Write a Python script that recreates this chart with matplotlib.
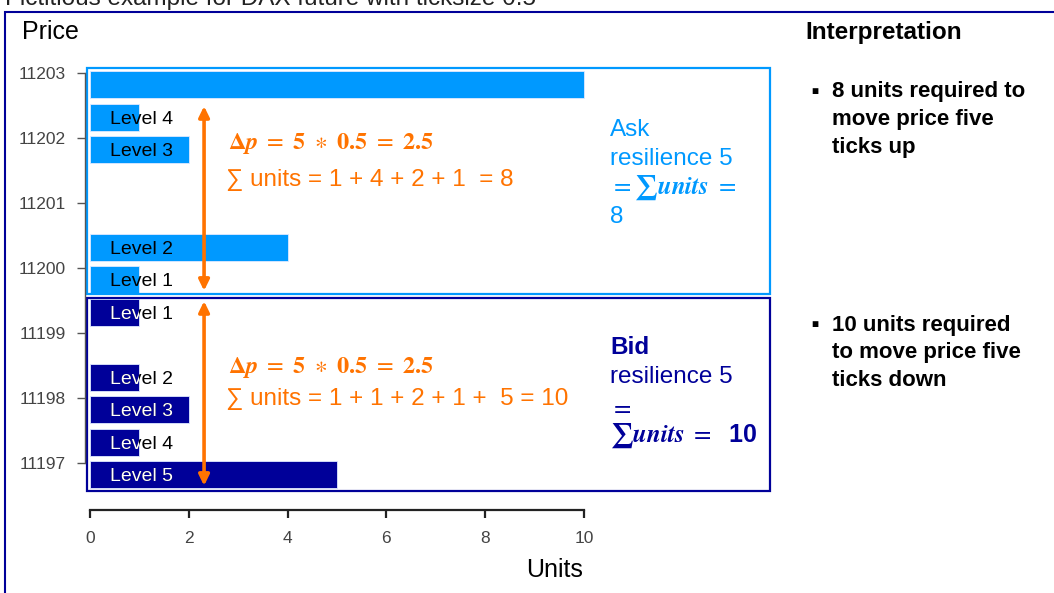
"""
Order book resilience illustration (ask / bid depth by level).
"""
import numpy as np
import matplotlib
matplotlib.use("Agg")
import matplotlib.pyplot as plt
from matplotlib.patches import Rectangle

plt.rcParams["font.family"] = ["Liberation Sans", "DejaVu Sans"]
plt.rcParams["mathtext.fontset"] = "stix"

TITLE = "Fictitious example for DAX future with ticksize 0.5"

ASK_PRICES = [11203.0, 11202.5, 11202.0, 11201.5, 11201.0, 11200.5, 11200.0]
ASK_UNITS = [10, 1, 2, 0, 0, 4, 1]
ASK_LABELS = ["", "Level 4", "Level 3", "", "", "Level 2", "Level 1"]

BID_PRICES = [11199.5, 11199.0, 11198.5, 11198.0, 11197.5, 11197.0]
BID_UNITS = [1, 0, 1, 2, 1, 5]
BID_LABELS = ["Level 1", "", "Level 2", "Level 3", "Level 4", "Level 5"]

PRICE_TICKS = [11197, 11198, 11199, 11200, 11201, 11202, 11203]
UNIT_TICKS = [0, 2, 4, 6, 8, 10]

ASK_NOTE = "\u2211 units = 1 + 4 + 2 + 1  = 8"
BID_NOTE = "\u2211 units = 1 + 1 + 2 + 1 +  5 = 10"
INTERP_UP = ["8 units required to", "move price five", "ticks up"]
INTERP_DOWN = ["10 units required", "to move price five", "ticks down"]

ASK_C = "#0099FF"
BID_C = "#000099"
ORANGE = "#FF7300"

W, H = 1054, 593
SHIFT = 0.18      # bars sit slightly below their price tick
BAR_H = 0.42
BOX_RIGHT = 13.77
ARROW_X = 2.31


def px(x, y):
    return x / W, 1 - y / H


fig = plt.figure(figsize=(W / 100, H / 100), dpi=100)
ax = fig.add_axes([85 / W, (H - 510) / H, 696.6 / W, 443.5 / H])
ax.set_xlim(-0.1, 14.0)
ax.set_ylim(11196.277, 11203.1)

ask_y = np.array(ASK_PRICES) - SHIFT
bid_y = np.array(BID_PRICES) - SHIFT
ask_bars = ax.barh(ask_y, ASK_UNITS, height=BAR_H, color=ASK_C, linewidth=0)
bid_bars = ax.barh(bid_y, BID_UNITS, height=BAR_H, color=BID_C, linewidth=0)
for bar, u in zip(list(ask_bars) + list(bid_bars), ASK_UNITS + BID_UNITS):
    if u > 0:
        bar.set_edgecolor("#dfe9ff")
        bar.set_linewidth(0.6)

for bar, lab in zip(ask_bars, ASK_LABELS):
    if lab:
        yc = bar.get_y() + bar.get_height() / 2
        ax.text(0.4, yc - 0.03, lab, va="center", fontsize=14, color="black")

for bar, lab in zip(bid_bars, BID_LABELS):
    if lab:
        yc = bar.get_y() + bar.get_height() / 2
        ax.text(0.4, yc - 0.03, lab, va="center", fontsize=14, color="black")
        t = ax.text(0.4, yc - 0.03, lab, va="center", fontsize=14, color="white")
        t.set_clip_on(True)
        t.set_clip_path(bar)

# boxes around ask / bid side
ax.add_patch(Rectangle((-0.06, ask_y.min() - 0.22), BOX_RIGHT + 0.06,
                       ask_y.max() - ask_y.min() + 0.47, fill=False,
                       edgecolor=ASK_C, linewidth=1.6, clip_on=False))
ax.add_patch(Rectangle((-0.06, bid_y.min() - 0.25), BOX_RIGHT + 0.06,
                       bid_y.max() - bid_y.min() + 0.47, fill=False,
                       edgecolor=BID_C, linewidth=1.6, clip_on=False))

# five-tick arrows
arrow = dict(arrowstyle="<|-|>,head_length=0.45,head_width=0.22",
             color=ORANGE, lw=2.6, mutation_scale=14, shrinkA=0, shrinkB=0)
ax.annotate("", xy=(ARROW_X, ask_y[1] + 0.17), xytext=(ARROW_X, ask_y[-1] - 0.17),
            arrowprops=arrow)
ax.annotate("", xy=(ARROW_X, bid_y[0] + 0.17), xytext=(ARROW_X, bid_y[-1] - 0.17),
            arrowprops=arrow)

# axes styling (R-like)
for s in ("top", "right"):
    ax.spines[s].set_visible(False)
ax.spines["left"].set_bounds(PRICE_TICKS[0], PRICE_TICKS[-1])
ax.spines["left"].set_color("#555555")
ax.spines["left"].set_linewidth(1.0)
ax.spines["bottom"].set_bounds(UNIT_TICKS[0], UNIT_TICKS[-1])
ax.spines["bottom"].set_color("#222222")
ax.spines["bottom"].set_linewidth(1.6)
ax.set_yticks(PRICE_TICKS)
ax.set_yticklabels([str(p) for p in PRICE_TICKS])
ax.set_xticks(UNIT_TICKS)
ax.tick_params(axis="y", length=5.8, width=1.0, color="#555555",
               labelsize=12.5, labelcolor="#444444", pad=8)
ax.tick_params(axis="x", length=5.8, width=1.6, color="#222222",
               labelsize=12.5, labelcolor="#444444", pad=9)

fig.text(*px(22, 32), "Price", fontsize=18, va="center", ha="left")
fig.text(*px(583, 570), "Units", fontsize=18, va="center", ha="right")

# orange annotations
dp = (r"$\mathbf{\Delta}\mathbfit{p}\ =\ \mathbf{5}\ \ast\ \mathbf{0.5}"
      r"\ =\ \mathbf{2.5}$")
fig.text(*px(228, 143), dp, fontsize=17.5, color=ORANGE, va="center")
fig.text(*px(226, 180), ASK_NOTE, fontsize=17.5, color=ORANGE, va="center")
fig.text(*px(228, 368), dp, fontsize=17.5, color=ORANGE, va="center")
fig.text(*px(226, 399), BID_NOTE, fontsize=17.5, color=ORANGE, va="center")

# resilience notes
fig.text(*px(610, 130), "Ask", fontsize=17.5, color=ASK_C, va="center")
fig.text(*px(610, 159), "resilience 5", fontsize=17.5, color=ASK_C, va="center")
fig.text(*px(610, 188), r"$=\mathbf{\sum}\mathbfit{units}\ =$", fontsize=18,
         color=ASK_C, va="center")
fig.text(*px(610, 217), "8", fontsize=17.5, color=ASK_C, va="center")

fig.text(*px(610, 347), "Bid", fontsize=17.5, color=BID_C, va="center",
         fontweight="bold")
fig.text(*px(610, 377), "resilience 5", fontsize=17.5, color=BID_C, va="center")
fig.text(*px(610, 407), r"$=$", fontsize=18, color=BID_C, va="center")
fig.text(*px(610, 436), r"$\mathbf{\sum}\mathbfit{units}\ =$  10", fontsize=18,
         color=BID_C, va="center", fontweight="bold")

# interpretation panel
fig.text(*px(805, 32), "Interpretation", fontsize=17.5, fontweight="bold",
         va="center")
for y0, lines in ((92, INTERP_UP), (325, INTERP_DOWN)):
    fig.text(*px(811, y0), "\u25a0", fontsize=8.5, va="center")
    for i, line in enumerate(lines):
        fig.text(*px(832, y0 + 27.5 * i), line, fontsize=16, fontweight="bold",
                 va="center")

# clipped title and outer frame
fig.text(*px(5, 5), TITLE, fontsize=17.5, va="baseline", color="#222222")
fig.add_artist(Rectangle((5 / W, -0.2), 1.5, 1.2 - 12 / H, fill=False,
                         edgecolor=BID_C, linewidth=1.5,
                         transform=fig.transFigure))

fig.savefig("out.png", dpi=100)
